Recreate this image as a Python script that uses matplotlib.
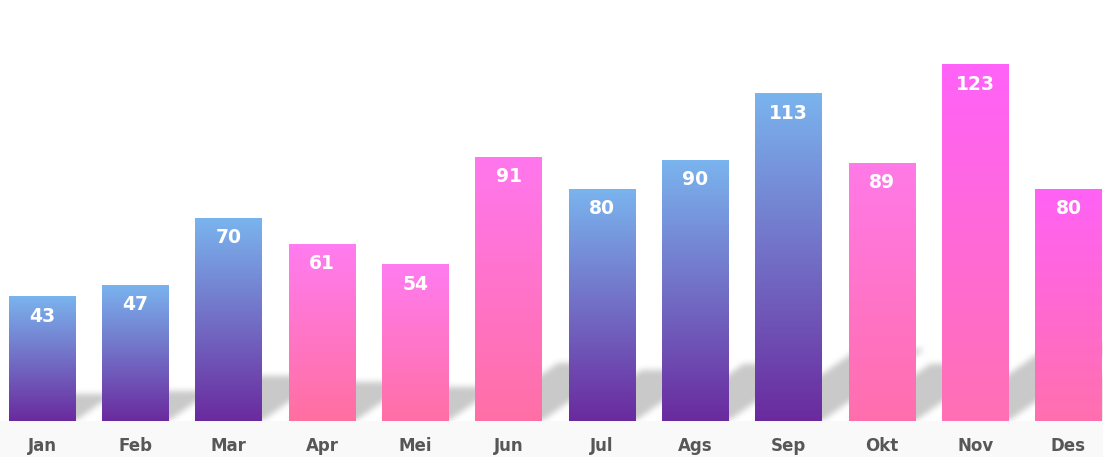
import numpy as np
import matplotlib
matplotlib.use("Agg")
import matplotlib.pyplot as plt
from matplotlib.colors import to_rgb

# Data
months = ["Jan", "Feb", "Mar", "Apr", "Mei", "Jun",
          "Jul", "Ags", "Sep", "Okt", "Nov", "Des"]
values = [43, 47, 70, 61, 54, 91, 80, 90, 113, 89, 123, 80]
groups = ["blue", "blue", "blue", "pink", "pink", "pink",
          "blue", "blue", "blue", "pink", "pink", "pink"]

# Gradient colours (top, bottom) per bar
top_colors = {
    "blue": ["#7ab4ee"] * 12,
    "pink": ["#ff7cf0", "#ff7cf0", "#ff77ee", "#ff7ae8", "#ff62f8", "#ff62f5"],
}
bottom_blue = "#6a2a9e"
bottom_pink = ["#ff6fa0", "#ff6fa4", "#ff6fa5", "#ff6eac", "#ff70b4", "#ff70ae"]

W, H = 1103, 457
fig = plt.figure(figsize=(W / 100, H / 100), dpi=100)
ax = fig.add_axes([0, 0, 1, 1])
xlim = (-0.45, 11.37)
ylim = (-12.41, 145.2)
ax.set_xlim(*xlim)
ax.set_ylim(*ylim)
ax.axis("off")

x = np.arange(len(months))
bar_w = 0.71

# Floor band under the bars
ax.axhspan(ylim[0], 0, color="#f9f9f9", zorder=0, lw=0)

# Soft diagonal shadows behind the bars (rasterised, then blurred)
sx = W / (xlim[1] - xlim[0])
sy = (H) / (ylim[1] - ylim[0])
ny = int(round(ylim[1] * sy))
px = np.arange(W) + 0.5
py = np.arange(ny) + 0.5
PX, PY = np.meshgrid(px, py)
mask = np.zeros_like(PX)
slope = 0.7
rise = 0.22
for xi, v in zip(x, values):
    L = (xi - bar_w / 2 - xlim[0]) * sx
    R = (xi + bar_w / 2 - xlim[0]) * sx
    hp = v * sy * rise
    shift = PX - PY / slope
    inside = (PY <= hp) & (shift >= L) & (shift <= R)
    mask[inside] = 1.0


def box_blur(a, r):
    k = np.ones(2 * r + 1) / (2 * r + 1)
    a = np.apply_along_axis(lambda m: np.convolve(m, k, mode="same"), 0, a)
    a = np.apply_along_axis(lambda m: np.convolve(m, k, mode="same"), 1, a)
    return a


mask = box_blur(box_blur(mask, 3), 3)
shadow = np.zeros((ny, W, 4))
shadow[..., :3] = 0.79
shadow[..., 3] = np.clip(mask, 0, 1)
ax.imshow(shadow, extent=[xlim[0], xlim[1], 0, ylim[1]], origin="lower",
          aspect="auto", interpolation="bilinear", zorder=1)

# Bars with vertical gradients
bars = ax.bar(x, values, width=bar_w, color="none", edgecolor="none", zorder=2)
pink_i = 0
for i, (bar, g) in enumerate(zip(bars, groups)):
    if g == "blue":
        top, bot = to_rgb(top_colors["blue"][i]), to_rgb(bottom_blue)
    else:
        top, bot = to_rgb(top_colors["pink"][pink_i]), to_rgb(bottom_pink[pink_i])
        pink_i += 1
    t = np.linspace(0, 1, 256)[:, None]
    grad = np.array(bot)[None, :] * (1 - t) + np.array(top)[None, :] * t
    grad = grad[:, None, :]
    bx, by = bar.get_x(), bar.get_y()
    bw, bh = bar.get_width(), bar.get_height()
    im = ax.imshow(grad, extent=[bx, bx + bw, by, by + bh], origin="lower",
                   aspect="auto", zorder=3, interpolation="bilinear")
    im.set_clip_path(bar)

# Value labels
for xi, v in zip(x, values):
    ax.text(xi, v - 6.8, str(v), ha="center", va="center", color="white",
            fontsize=13.5, fontweight="bold", fontfamily="DejaVu Sans", zorder=5)

# Month labels
for xi, m in zip(x, months):
    ax.text(xi, -8.6, m, ha="center", va="center", color="#575757",
            fontsize=12, fontweight="bold", fontfamily="DejaVu Sans", zorder=5)

fig.savefig("out.png", dpi=100)
